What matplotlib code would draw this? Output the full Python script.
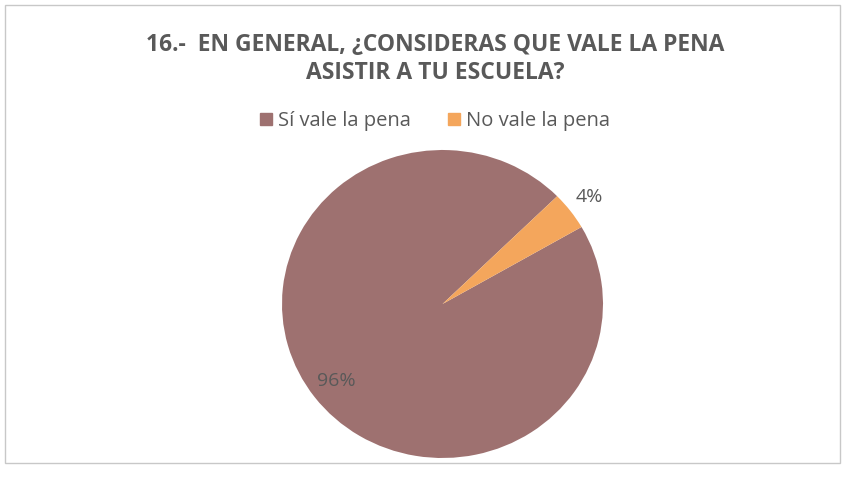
import numpy as np
import matplotlib
matplotlib.use("Agg")
import matplotlib.pyplot as plt
from matplotlib.patches import Rectangle

categories = ["Sí vale la pena", "No vale la pena"]
values = [96, 4]
pct_labels = ["96%", "4%"]
colors = ["#9E7170", "#F4A65C"]
title = "16.-  EN GENERAL, ¿CONSIDERAS QUE VALE LA PENA\nASISTIR A TU ESCUELA?"

W, H = 846, 480
TXT = "#595959"
fig = plt.figure(figsize=(W / 100, H / 100), dpi=100)
fig.patch.set_facecolor("white")

# frame
fig.add_artist(Rectangle((5 / W, 1 - 463 / H), 835 / W, 458 / H,
                         transform=fig.transFigure, fill=False,
                         edgecolor="#C8C8C8", linewidth=1.0))

fig.text(435 / W, 1 - 59 / H, title, ha="center", va="center",
         fontsize=16.5, fontweight="bold", family="Open Sans", color=TXT,
         linespacing=1.2)

cx, cy, rx, ry = 442.5, 304, 160.5, 154
ax = fig.add_axes([(cx - rx) / W, 1 - (cy + ry) / H, 2 * rx / W, 2 * ry / H])
wedges, _ = ax.pie(values, colors=colors, startangle=30, counterclock=False,
                   radius=1.0, wedgeprops=dict(linewidth=0))
ax.set_aspect("auto")
ax.set_xlim(-1, 1)
ax.set_ylim(-1, 1)
ax.axis("off")

# labels
for i, w in enumerate(wedges):
    mid = np.deg2rad((w.theta1 + w.theta2) / 2)
    r = 0.83 if values[i] > 50 else 1.15
    ax.text(r * np.cos(mid), r * np.sin(mid), pct_labels[i], ha="center",
            va="center", fontsize=14, family="Open Sans", color=TXT)

handles = [Rectangle((0, 0), 1, 1, color=c) for c in colors]
fig.legend(handles, categories, loc="center", bbox_to_anchor=(435 / W, 1 - 121 / H),
           ncol=2, frameon=False, prop=dict(family="Open Sans", size=14.5),
           labelcolor=TXT, handlelength=0.6, handleheight=0.6,
           handletextpad=0.3, columnspacing=1.8)

fig.savefig("out.png", dpi=100)
